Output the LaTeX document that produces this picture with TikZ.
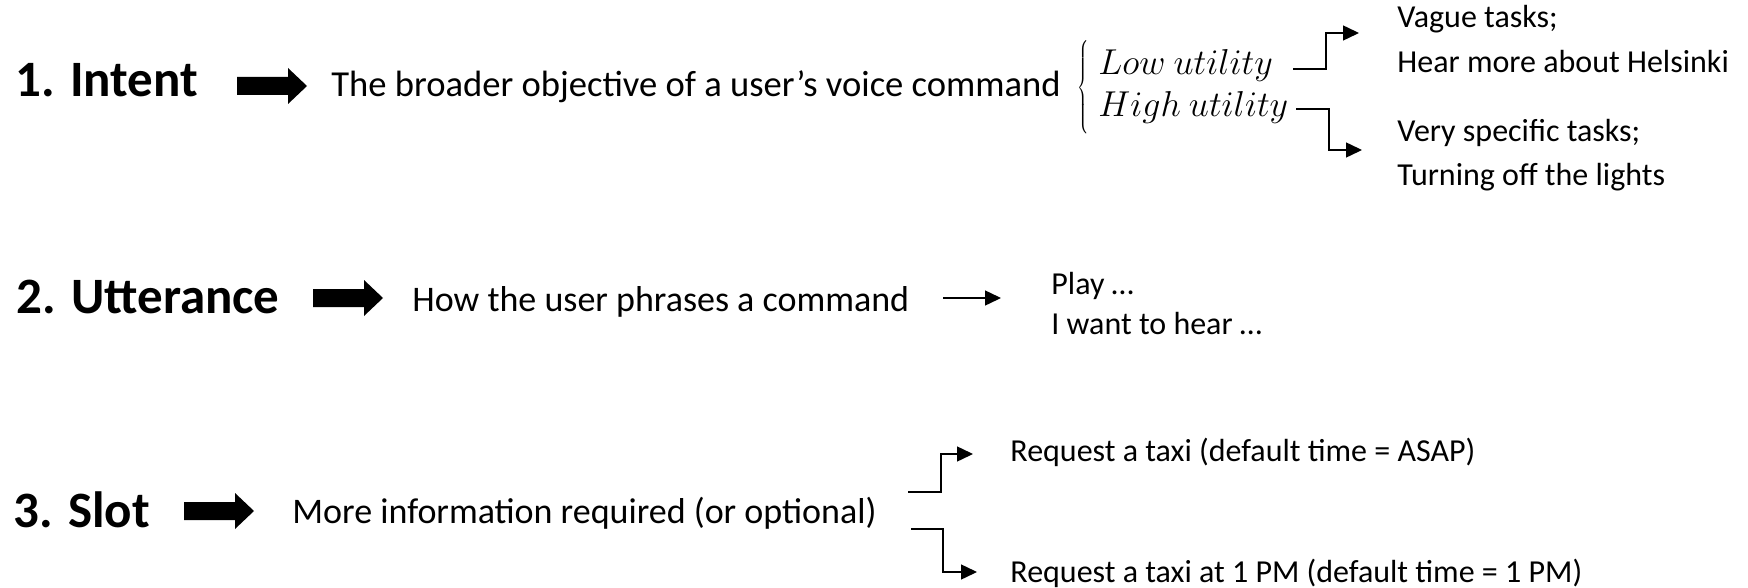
\documentclass[tikz,border=0pt]{standalone}
\usepackage{fix-cm}
\usepackage{fontspec}
\setmainfont{Carlito}
\usetikzlibrary{arrows.meta}
\begin{document}
\begin{tikzpicture}[x=0.5pt,y=-0.5pt,
  head/.style={font=\fontsize{25.5}{30}\selectfont\bfseries, inner sep=0pt, anchor=base west},
  desc/.style={font=\fontsize{18}{22}\selectfont, inner sep=0pt, anchor=base west},
  side/.style={font=\fontsize{16}{20}\selectfont, inner sep=0pt, anchor=base west},
  util/.style={font=\fontsize{18}{22}\selectfont, inner sep=0pt, anchor=base west},
  conn/.style={line width=0.7pt, -{Triangle[length=8pt,width=7.5pt]}},
  blockarrow/.pic={\fill (0,-9) -- (51,-9) -- (51,-18) -- (70,0) -- (51,18) -- (51,9) -- (0,9) -- cycle;}
]
\useasboundingbox (0,0) rectangle (1748,588);

% Row 1
\node[head] (h1) at (15,97) {1. Intent};
\pic at (237,86) {blockarrow};
\node[desc, font=\fontsize{18.3}{22}\selectfont] (d1) at (331,97) {The broader objective of a user’s voice command};
\node[util, anchor=center] (brace) at (1084,88) {\resizebox*{6.5pt}{47pt}{$\left\{\vrule height 20pt depth 20pt width 0pt\right.$}};
\node[util] (low) at (1098,75) {$Low\ utility$};
\node[util] (high) at (1098,117) {$High\ utility$};
\coordinate (t1) at (1359,33);
\coordinate (t2) at (1362,150);
\draw[conn] (1293,69) -- (1326,69) |- (t1);
\draw[conn] (1296,109) -- (1329,109) |- (t2);
\node[side] (v1) at (1397,28) {Vague tasks;};
\node[side] (v2) at (1397,73) {Hear more about Helsinki};
\node[side] (s1) at (1397,142) {Very specific tasks;};
\node[side] (s2) at (1397,186) {Turning off the lights};

% Row 2
\node[head] (h2) at (16,313) {2. Utterance};
\pic at (313,298) {blockarrow};
\node[desc] (d2) at (412,311) {How the user phrases a command};
\node[side] (p1) at (1051,294) {Play …};
\node[side] (p2) at (1051,334) {I want to hear …};
\coordinate (t3) at (1001,298);
\draw[conn] (943,298) -- (t3);

% Row 3
\node[head] (h3) at (13,527) {3. Slot};
\pic at (184,511) {blockarrow};
\node[desc] (d3) at (292,523) {More information required (or optional)};
\node[side] (r1) at (1010,461) {Request a taxi (default time = ASAP)};
\node[side] (r2) at (1010,582) {Request a taxi at 1 PM (default time = 1 PM)};
\coordinate (t4) at (973,454);
\coordinate (t5) at (977,572);
\draw[conn] (908,492) -- (941,492) |- (t4);
\draw[conn] (911,529) -- (943,529) |- (t5);
\end{tikzpicture}
\end{document}
